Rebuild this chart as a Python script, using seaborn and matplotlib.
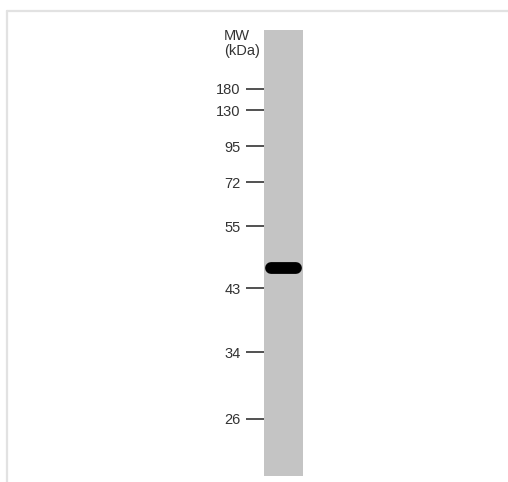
import matplotlib
matplotlib.use("Agg")
import matplotlib.pyplot as plt
from matplotlib.lines import Line2D
import seaborn as sns
import pandas as pd

# ---- data ----
marker_mw = ["180", "130", "95", "72", "55", "43", "34", "26"]
# migration distance of each marker from top of lane (px units of the gel image)
marker_migration = [59, 80, 116, 152, 196, 258, 322, 389]
lane_length = 446
band_migration = [238, 238]
band_span = [0.19, 0.81]

sns.set_theme(style="white")
plt.rcParams["font.family"] = ["Liberation Sans", "DejaVu Sans"]

W, H = 508, 482
fig = plt.figure(figsize=(W / 100, H / 100), dpi=100)
fig.patch.set_facecolor("white")

# frame lines (top & left)
fig.add_artist(Line2D([6.5 / W, 1.0], [1 - 10.5 / H, 1 - 10.5 / H], color="#e2e2e2", lw=1.6))
fig.add_artist(Line2D([6.5 / W, 6.5 / W], [0.0, 1 - 10.5 / H], color="#e2e2e2", lw=1.6))

# lane axes
ax = fig.add_axes([264 / W, (H - 476) / H, 39 / W, 446 / H])
ax.set_facecolor("#c4c4c4")
for s in ax.spines.values():
    s.set_visible(False)

df = pd.DataFrame({"x": band_span, "y": band_migration})
sns.lineplot(data=df, x="x", y="y", ax=ax, color="black", linewidth=8.5,
             solid_capstyle="round", legend=False)

ax.set_xlim(0, 1)
ax.set_ylim(lane_length, 0)
ax.set_xticks([])
ax.set_yticks(marker_migration)
ax.set_yticklabels(marker_mw)
ax.tick_params(axis="y", direction="out", length=13, width=1.1, color="#222222",
               pad=4, labelsize=10.5, labelcolor="#333333", left=True)
ax.set_xlabel("")
ax.set_ylabel("")

fig.text(224 / W, 1 - 43.5 / H, "MW\n(kDa)", ha="left", va="center",
         multialignment="left", fontsize=10.5, color="#333333", linespacing=1.05)

fig.savefig("out.png", dpi=100, facecolor="white")
